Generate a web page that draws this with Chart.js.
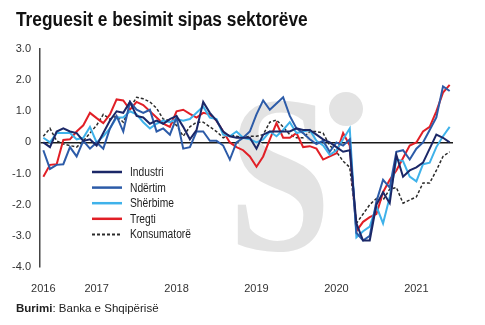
<!DOCTYPE html>
<html>
<head>
<meta charset="utf-8">
<script src="https://cdn.jsdelivr.net/npm/chart.js@4.4.1/dist/chart.umd.min.js"></script>
<style>
  body { margin: 0; background: #fff; width: 485px; height: 325px; overflow: hidden; position: relative; font-family: "Liberation Sans", Arial, sans-serif; }
  canvas { position: absolute; left: 0; top: 0; }
  #title { position: absolute; left: 16px; top: 8px; font: bold 20px "Liberation Sans", Arial, sans-serif; color: #111; transform: scaleX(0.866); transform-origin: 0 0; white-space: nowrap; }
  #source { position: absolute; left: 16px; top: 302px; font-size: 11.5px; color: #222; }
</style>
</head>
<body>
<canvas id="chart" width="485" height="325"></canvas>
<div id="title">Treguesit e besimit sipas sektorëve</div>
<div id="source"><b>Burimi</b>: Banka e Shqipërisë</div>
<script>
// muajt: maj 2016 - qershor 2021
const months = [
  '2016-05','2016-06','2016-07','2016-08','2016-09','2016-10','2016-11','2016-12',
  '2017-01','2017-02','2017-03','2017-04','2017-05','2017-06','2017-07','2017-08','2017-09','2017-10','2017-11','2017-12',
  '2018-01','2018-02','2018-03','2018-04','2018-05','2018-06','2018-07','2018-08','2018-09','2018-10','2018-11','2018-12',
  '2019-01','2019-02','2019-03','2019-04','2019-05','2019-06','2019-07','2019-08','2019-09','2019-10','2019-11','2019-12',
  '2020-01','2020-02','2020-03','2020-04','2020-05','2020-06','2020-07','2020-08','2020-09','2020-10','2020-11','2020-12',
  '2021-01','2021-02','2021-03','2021-04','2021-05','2021-06'
];

// etiketat e vitit ne boshtin x
const tickMonths = ['2016-05','2017-01','2018-01','2019-01','2020-01','2021-01'];
const tickYears  = ['2016','2017','2018','2019','2020','2021'];

const industri = [
  0.0, -0.15, 0.35, 0.45, 0.35, 0.3, 0.05, 0.1,
  -0.1, 0.3, 0.7, 1.0, 0.95, 1.3, 0.85, 0.8, 0.6, 0.7, 0.6, 0.75,
  0.85, 0.5, 0.1, 0.4, 1.3, 0.95, 0.7, 0.35, 0.2, 0.15, 0.15, 0.15,
  -0.2, 0.25, 0.35, 0.35, 0.35, 0.35, 0.45, 0.4, 0.4, 0.25, 0.1, 0.0,
  -0.15, -0.3, -0.25, -2.6, -3.15, -3.15, -2.0, -1.6, -1.95, -0.4, -1.1, -0.9,
  -0.8, -0.65, -0.2, 0.25, 0.15, 0.0
];

const ndertim = [
  -0.25, -0.85, -0.72, -0.7, -0.15, -0.45, 0.05, -0.2,
  0.0, -0.2, 0.45, 0.85, 0.35, 1.3, 1.05, 0.95, 1.05, 0.35, 0.45, 0.25,
  0.8, -0.2, -0.15, 0.35, 0.35, 0.05, 0.05, -0.1, -0.55, 0.0, 0.15, 0.35,
  0.9, 1.35, 1.05, 1.25, 1.45, 0.85, 0.45, 0.3, 0.1, -0.05, 0.05, -0.3,
  0.0, -0.1, 0.1, -2.9, -3.15, -3.0, -1.9, -1.2, -1.45, -0.3, -0.25, -0.55,
  -0.2, 0.0, 0.4, 0.8, 1.8, 1.65
];

const sherbime = [
  0.15, 0.0, 0.3, 0.3, 0.3, 0.1, 0.15, 0.5,
  0.0, 0.2, 0.45, 0.8, 0.8, 1.0, 0.9, 0.65, 0.45, 0.6, 0.7, 0.65,
  0.75, 0.7, 0.75, 0.95, 1.15, 0.8, 0.75, 0.25, 0.2, 0.35, 0.15, 0.1,
  0.0, 0.1, 0.35, 0.2, 0.4, 0.65, 0.3, 0.35, 0.4, 0.05, -0.1, -0.4,
  -0.25, 0.1, 0.45, -3.05, -2.85, -2.7, -2.05, -2.6, -1.75, -0.55, -0.6, -1.1,
  -1.25, -0.7, -0.65, -0.15, 0.2, 0.5
];

const tregti = [
  -1.1, -0.72, -0.7, 0.08, 0.1, 0.35, 0.55, 0.95,
  0.78, 0.62, 0.9, 1.38, 1.35, 1.05, 1.3, 1.2, 1.0, 0.8, 0.6, 0.5,
  1.0, 1.05, 0.92, 0.8, 0.95, 0.9, 0.7, 0.35, 0.0, -0.15, -0.25, -0.45,
  -0.78, -0.45, 0.1, 0.62, 0.15, 0.15, 0.3, -0.15, -0.12, -0.2, -0.55, -0.45,
  -0.35, 0.3, -0.1, -2.85, -2.55, -2.4, -2.3, -1.6, -1.2, -0.9, -0.5, -0.1,
  0.0, 0.35, 0.5, 1.0, 1.6, 1.85
];

const konsumatore = [
  0.2, 0.45, 0.05, -0.05, -0.1, -0.15, 0.05, 0.3,
  0.55, 0.9, 0.75, 0.85, 0.65, 1.1, 1.45, 1.4, 1.3, 1.1, 0.75, 0.7,
  0.55, 0.2, 0.5, 0.65, 0.65, 0.5, 0.35, 0.15, 0.25, 0.2, 0.15, 0.2,
  0.2, 0.25, 0.65, 0.72, 0.5, 0.25, 0.15, 0.15, 0.35, 0.35, 0.3, -0.1,
  -0.3, -0.6, -0.8, -2.6, -2.3, -2.0, -1.8, -1.85, -1.5, -1.45, -1.95, -1.85,
  -1.75, -1.3, -1.3, -0.9, -0.45, -0.3
];

const series = [
  { label: 'Industri',    data: industri,    color: '#1b2767', width: 2,   dash: [] },
  { label: 'Ndërtim',     data: ndertim,     color: '#2c5ba8', width: 2,   dash: [] },
  { label: 'Shërbime',    data: sherbime,    color: '#3fb2ea', width: 2,   dash: [] },
  { label: 'Tregti',      data: tregti,      color: '#e11f26', width: 2,   dash: [] },
  { label: 'Konsumatorë', data: konsumatore, color: '#2b2b2b', width: 1.5, dash: [3, 2] }
];

// logo "Si" ne sfond, gri e lehte
const watermark = {
  id: 'watermark',
  beforeDatasetsDraw(chart) {
    const c = chart.ctx;
    c.save();
    c.fillStyle = '#e3e3e3';
    c.translate(228, 250);
    c.scale(0.8, 0.97);
    c.font = 'bold 232px "Liberation Serif", serif';
    c.fillText('S', 0, 0);
    c.restore();
    c.save();
    c.fillStyle = '#e3e3e3';
    c.beginPath();
    c.arc(346, 109, 17, 0, Math.PI * 2);
    c.fill();
    c.restore();
  }
};

// legjenda brenda grafikut
const legendBox = {
  id: 'legendBox',
  afterDatasetsDraw(chart) {
    const c = chart.ctx;
    c.save();
    c.textBaseline = 'middle';
    series.forEach((s, i) => {
      const y = 172 + i * 15.6;
      c.strokeStyle = s.color;
      c.lineWidth = s.width + 0.5;
      c.setLineDash(s.dash);
      c.beginPath();
      c.moveTo(92, y);
      c.lineTo(122, y);
      c.stroke();
      c.save();
      c.translate(130, y + 0.5);
      c.scale(0.82, 1);
      c.font = '12.5px "Liberation Sans", Arial, sans-serif';
      c.fillStyle = '#222';
      c.fillText(s.label, 0, 0);
      c.restore();
    });
    c.restore();
  }
};

new Chart(document.getElementById('chart'), {
  type: 'line',
  data: {
    labels: months,
    datasets: series.map(s => ({
      label: s.label,
      data: s.data,
      borderColor: s.color,
      borderWidth: s.width,
      borderDash: s.dash,
      pointRadius: 0,
      tension: 0,
      fill: false
    }))
  },
  options: {
    responsive: false,
    animation: false,
    layout: { padding: { top: 49, left: 0, right: 32, bottom: 33 } },
    plugins: { legend: { display: false }, tooltip: { enabled: false } },
    scales: {
      x: {
        offset: true,
        grid: { display: false },
        border: { display: false },
        ticks: {
          autoSkip: false,
          maxRotation: 0,
          padding: 7,
          color: '#333',
          font: { family: '"Liberation Sans", Arial, sans-serif', size: 11 },
          callback: (v, i) => {
            const k = tickMonths.indexOf(months[i]);
            return k >= 0 ? tickYears[k] : '';
          }
        },
        afterFit: s => { s.height = 25; }
      },
      y: {
        min: -4,
        max: 3,
        ticks: {
          stepSize: 1,
          padding: 9,
          color: '#333',
          font: { family: '"Liberation Sans", Arial, sans-serif', size: 11 },
          callback: v => v === 0 ? '0' : v.toFixed(1)
        },
        grid: {
          drawTicks: false,
          lineWidth: 1.5,
          color: ctx => ctx.tick.value === 0 ? '#1a1a1a' : 'rgba(0,0,0,0)'
        },
        border: { color: '#444', width: 1.5 },
        afterFit: s => { s.width = 40; }
      }
    }
  },
  plugins: [watermark, legendBox]
});
</script>
</body>
</html>
